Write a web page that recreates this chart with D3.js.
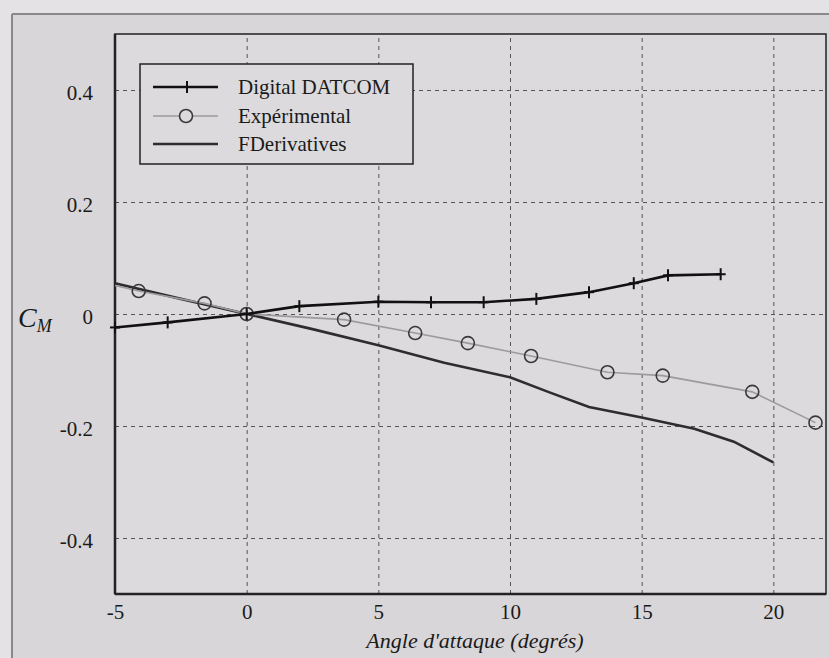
<!DOCTYPE html>
<html>
<head>
<meta charset="utf-8">
<script src="https://cdn.jsdelivr.net/npm/d3@7"></script>
<style>
  body { margin: 0; background: #e4e2e4; }
  svg { display: block; }
  .tick text { font-family: "Liberation Serif", "Times New Roman", "DejaVu Serif", serif; font-size: 21px; fill: #1a1a1a; }
  .grid line { stroke: #555; stroke-dasharray: 4,4; stroke-width: 1; }
  .grid path { display: none; }
</style>
</head>
<body>
<script>
// angle of attack (deg) and C_M
var datcomAlpha = [-5, -3, 0, 2, 5, 7, 9, 11, 13, 14.7, 16, 18];
var datcomCm    = [-0.024, -0.015, 0, 0.014, 0.022, 0.021, 0.021, 0.027, 0.039, 0.055, 0.069, 0.071];

var expAlpha = [-5, -4.1, -1.6, 0, 3.7, 6.4, 8.4, 10.8, 13.7, 15.8, 19.2, 21.6];
var expCm    = [0.051, 0.041, 0.019, 0, -0.010, -0.034, -0.052, -0.075, -0.104, -0.110, -0.139, -0.194];

var fdAlpha = [-5, -2.5, 0, 2.5, 5, 7.5, 10, 11.5, 13, 15, 17, 18.5, 20];
var fdCm    = [0.055, 0.027, 0, -0.027, -0.056, -0.087, -0.113, -0.14, -0.166, -0.185, -0.205, -0.228, -0.265];

var xTicks = [-5, 0, 5, 10, 15, 20];
var yTicks = [-0.4, -0.2, 0, 0.2, 0.4];
var legendNames = ["Digital DATCOM", "Expérimental", "FDerivatives"];

var serif = "'Liberation Serif', 'Times New Roman', 'DejaVu Serif', serif";

function chart() {
  var W = 829, H = 658;
  var left = 115, right = 826, top = 34, bottom = 594;

  var svg = d3.select("body").append("svg")
      .attr("width", W)
      .attr("height", H);

  // scanned page background + figure frame
  svg.append("rect").attr("x", 12).attr("y", 14).attr("width", W - 12).attr("height", H - 14)
      .attr("fill", "#d8d6d8");
  svg.append("line").attr("x1", 12).attr("x2", W).attr("y1", 14).attr("y2", 14)
      .attr("stroke", "#8a888a").attr("stroke-width", 2);
  svg.append("line").attr("x1", 12).attr("x2", 12).attr("y1", 14).attr("y2", H)
      .attr("stroke", "#8a888a").attr("stroke-width", 2);

  svg.append("rect").attr("x", left).attr("y", top).attr("width", right - left).attr("height", bottom - top)
      .attr("fill", "#dcdadc");

  var x = d3.scaleLinear().domain([-5, 22]).range([left, right]);
  var y = d3.scaleLinear().domain([-0.5, 0.5]).range([bottom, top]);

  // grid
  svg.append("g").attr("class", "grid")
      .attr("transform", "translate(0," + bottom + ")")
      .call(d3.axisBottom(x).tickValues(xTicks.filter(function(d) { return d > -5; }))
        .tickSize(-(bottom - top)).tickFormat(""));
  svg.append("g").attr("class", "grid")
      .attr("transform", "translate(" + left + ",0)")
      .call(d3.axisLeft(y).tickValues(yTicks).tickSize(-(right - left)).tickFormat(""));

  // axes (plain hyphen for negatives, as in the scan)
  var hy = function(fmt) { return function(d) { return d === 0 ? "0" : fmt(d).replace("\u2212", "-"); }; };
  var xa = svg.append("g")
      .attr("transform", "translate(0," + bottom + ")")
      .call(d3.axisBottom(x).tickValues(xTicks).tickSize(0).tickPadding(10).tickFormat(hy(d3.format("d"))));
  xa.select(".domain").remove();
  var ya = svg.append("g")
      .attr("transform", "translate(" + (left - 22) + ",0)")
      .call(d3.axisLeft(y).tickValues(yTicks).tickSize(0).tickPadding(0).tickFormat(hy(d3.format(".1f"))));
  ya.select(".domain").remove();
  ya.selectAll(".tick text").attr("dy", "0.45em");

  // frame
  svg.append("rect").attr("x", left).attr("y", top).attr("width", right - left).attr("height", bottom - top)
      .attr("fill", "none").attr("stroke", "#222").attr("stroke-width", 1.5);
  svg.append("line").attr("x1", left).attr("x2", left).attr("y1", top).attr("y2", bottom)
      .attr("stroke", "#222").attr("stroke-width", 2.5);
  svg.append("line").attr("x1", left).attr("x2", right).attr("y1", bottom).attr("y2", bottom)
      .attr("stroke", "#222").attr("stroke-width", 2.5);

  var line = d3.line()
      .x(function(d) { return x(d[0]); })
      .y(function(d) { return y(d[1]); });

  var fd = d3.zip(fdAlpha, fdCm);
  var exp = d3.zip(expAlpha, expCm);
  var datcom = d3.zip(datcomAlpha, datcomCm);

  // FDerivatives
  svg.append("path").datum(fd).attr("d", line)
      .attr("fill", "none").attr("stroke", "#2e2c2e").attr("stroke-width", 2.6);

  // Experimental
  svg.append("path").datum(exp).attr("d", line)
      .attr("fill", "none").attr("stroke", "#9c9a9c").attr("stroke-width", 1.6);
  svg.selectAll(".expdot")
      .data(exp.slice(1))
      .enter().append("circle")
      .attr("class", "expdot")
      .attr("cx", function(d) { return x(d[0]); })
      .attr("cy", function(d) { return y(d[1]); })
      .attr("r", 6.5)
      .attr("fill", "none")
      .attr("stroke", "#3a383a")
      .attr("stroke-width", 1.6);

  // Digital DATCOM
  svg.append("path").datum(datcom).attr("d", line)
      .attr("fill", "none").attr("stroke", "#111").attr("stroke-width", 2.6);
  var plus = svg.selectAll(".plus")
      .data(datcom)
      .enter().append("g")
      .attr("transform", function(d) { return "translate(" + x(d[0]) + "," + y(d[1]) + ")"; });
  plus.append("line").attr("x1", 0).attr("x2", 0).attr("y1", -6).attr("y2", 6)
      .attr("stroke", "#111").attr("stroke-width", 2);
  plus.append("line").attr("x1", -5).attr("x2", 5).attr("y1", 0).attr("y2", 0)
      .attr("stroke", "#111").attr("stroke-width", 2);

  // legend
  var lg = svg.append("g").attr("transform", "translate(140,64)");
  lg.append("rect").attr("width", 273).attr("height", 100)
      .attr("fill", "#dcdadc").attr("stroke", "#222").attr("stroke-width", 1.5);
  var rows = [23, 52, 80];
  var items = lg.selectAll(".item").data(legendNames).enter().append("g")
      .attr("transform", function(d, i) { return "translate(0," + rows[i] + ")"; });
  items.append("text")
      .attr("x", 98).attr("dy", "0.35em")
      .style("font-family", serif)
      .style("font-size", "21px")
      .style("fill", "#1a1a1a")
      .text(function(d) { return d; });

  var it0 = d3.select(items.nodes()[0]);
  it0.append("line").attr("x1", 13).attr("x2", 78).attr("stroke", "#111").attr("stroke-width", 2.6);
  it0.append("line").attr("x1", 47).attr("x2", 47).attr("y1", -6).attr("y2", 6).attr("stroke", "#111").attr("stroke-width", 2);
  var it1 = d3.select(items.nodes()[1]);
  it1.append("line").attr("x1", 13).attr("x2", 78).attr("stroke", "#9c9a9c").attr("stroke-width", 1.6);
  it1.append("circle").attr("cx", 46).attr("r", 6.5).attr("fill", "#dcdadc").attr("stroke", "#3a383a").attr("stroke-width", 1.6);
  var it2 = d3.select(items.nodes()[2]);
  it2.append("line").attr("x1", 13).attr("x2", 78).attr("stroke", "#2e2c2e").attr("stroke-width", 2.6);

  // axis titles
  svg.append("text")
      .attr("x", 475).attr("y", 648)
      .attr("text-anchor", "middle")
      .style("font-family", serif)
      .style("font-style", "italic")
      .style("font-size", "22px")
      .style("fill", "#1a1a1a")
      .text("Angle d'attaque (degrés)");

  var cm = svg.append("text")
      .attr("x", 18).attr("y", 327)
      .style("font-family", serif)
      .style("font-style", "italic")
      .style("fill", "#1a1a1a");
  cm.append("tspan").style("font-size", "28px").text("C");
  cm.append("tspan").style("font-size", "18px").attr("dy", 5).text("M");
}

window.onload = chart();
</script>
</body>
</html>
